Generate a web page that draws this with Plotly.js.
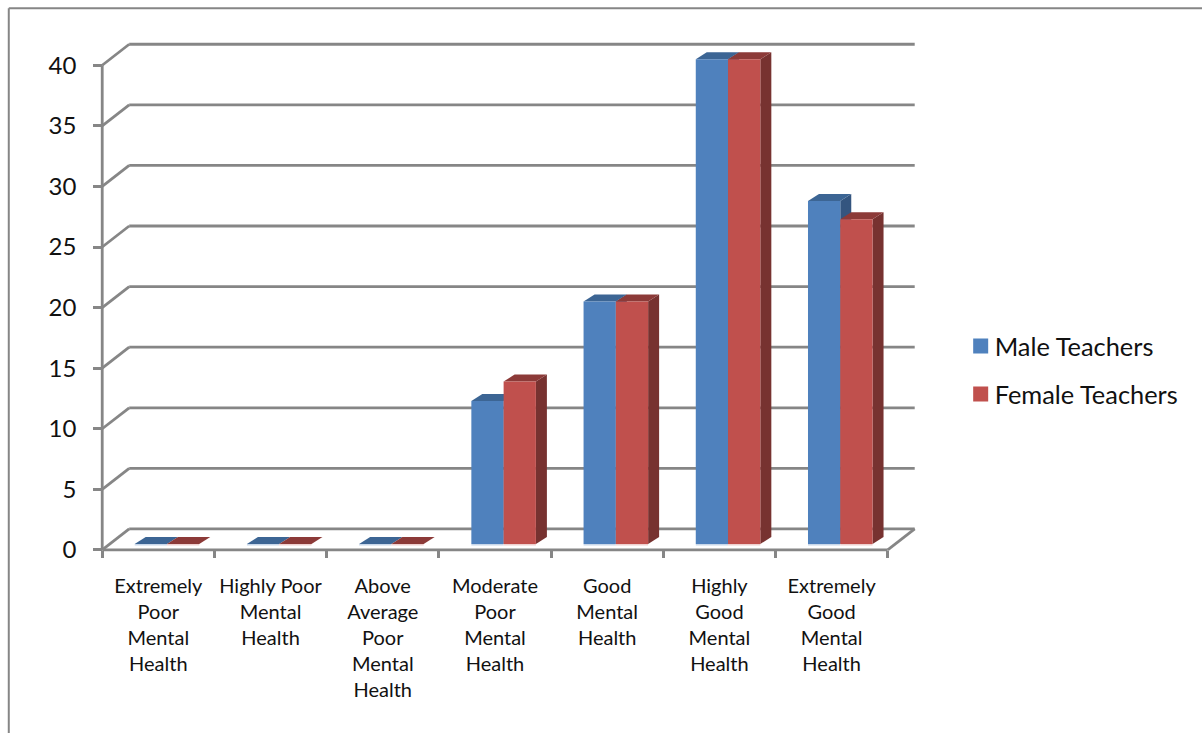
<!DOCTYPE html>
<html><head><meta charset="utf-8">
<script src="https://cdn.plot.ly/plotly-3.0.1.min.js"></script>
<style>html,body{margin:0;padding:0;background:#fff;overflow:hidden}#chart{width:1202px;height:733px}</style>
</head><body><div id="chart"></div>
<script>
const categories = [
  "Extremely<br>Poor<br>Mental<br>Health",
  "Highly Poor<br>Mental<br>Health",
  "Above<br>Average<br>Poor<br>Mental<br>Health",
  "Moderate<br>Poor<br>Mental<br>Health",
  "Good<br>Mental<br>Health",
  "Highly<br>Good<br>Mental<br>Health",
  "Extremely<br>Good<br>Mental<br>Health"
];
const maleTeachers = [0, 0, 0, 11.8, 20, 40, 28.3];
const femaleTeachers = [0, 0, 0, 13.4, 20, 40, 26.8];
const yTicks = [0, 5, 10, 15, 20, 25, 30, 35, 40];

// geometry of the 3-D look, in pixels of the reference
const pxX = 112.286, pxY = 12.125;
const axisLeftPx = 102, zeroPx = 550;
const xRange = [-0.6, 6.85], yRange = [-0.5, 42];
const plotW = (xRange[1] - xRange[0]) * pxX, plotH = (yRange[1] - yRange[0]) * pxY;
const mL = axisLeftPx - (-0.5 - xRange[0]) * pxX, mT = zeroPx - yRange[1] * pxY;

const wallDX = 27 / pxX, wallDY = 21 / pxY;
const barDX = 11 / pxX, barDY = 7 / pxY;
const barW = 32.3 / pxX, barStart = 32.5 / pxX - 0.5, barBase = 6 / pxY;
const gridColor = "#868686", gridW = 2.8;
const xEdge = -0.5, xEnd = categories.length - 0.5;

function line(x0, y0, x1, y1) {
  return {type: "line", layer: "below", xref: "x", yref: "y", x0, y0, x1, y1, line: {color: gridColor, width: gridW}};
}
function poly(pts, color) {
  const path = pts.map((p, i) => (i ? "L" : "M") + p[0] + "," + p[1]).join(" ") + " Z";
  return {type: "path", layer: "below", xref: "x", yref: "y", path, fillcolor: color, line: {width: 0}};
}
const shapes = [];
// walls
shapes.push(line(xEdge, 0, xEdge, yTicks[yTicks.length - 1]));
yTicks.forEach(t => {
  shapes.push(line(xEdge, t, xEdge + wallDX, t + wallDY));
  shapes.push(line(xEdge + wallDX, t + wallDY, xEnd + wallDX, t + wallDY));
});
shapes.push(line(xEnd, 0, xEnd + wallDX, wallDY));
shapes.push(line(xEdge, 0, xEnd, 0));

// depth faces of the columns (front faces are the bar traces, drawn above these)
function faces(values, slot, topColor, sideColor, stripColor) {
  values.forEach((v, i) => {
    const x0 = i + barStart + slot * barW, x1 = x0 + barW, yb = barBase, yt = barBase + v;
    if (v > 0) shapes.push(poly([[x1, yb], [x1 + barDX, yb + barDY], [x1 + barDX, yt + barDY], [x1, yt]], sideColor));
    shapes.push(poly([[x0, yt], [x1, yt], [x1 + barDX, yt + barDY], [x0 + barDX, yt + barDY]], topColor));
    shapes.push(poly([[x0, yb], [x1, yb], [x1, yb - 1.5 / pxY], [x0, yb - 1.5 / pxY]], stripColor));
  });
}
faces(maleTeachers, 0, "#3C6594", "#34557F", "#C8D7EA");
faces(femaleTeachers, 1, "#8C3A38", "#773230", "#EFD0CF");

// outer frame
const fx = px => (px - mL) / plotW, fy = px => 1 - (px - mT) / plotH;
const frame = {color: gridColor, width: 2};
shapes.push({type: "line", xref: "paper", yref: "paper", layer: "below", x0: fx(8.5), x1: fx(8.5), y0: fy(8), y1: fy(740), line: frame});
shapes.push({type: "line", xref: "paper", yref: "paper", layer: "below", x0: fx(8.5), x1: fx(1210), y0: fy(8), y1: fy(8), line: frame});

const fontFam = "Lato, 'Open Sans', sans-serif";
function series(name, values, slot, color) {
  return {type: "bar", name, x: categories, y: values, base: barBase, width: barW,
    offset: barStart + slot * barW, marker: {color, line: {width: 0}}, legendgroup: name};
}
const data = [
  series("Male Teachers", maleTeachers, 0, "#4F81BD"),
  series("Female Teachers", femaleTeachers, 1, "#C0504D")
];
const layout = {
  width: 1202, height: 733, autosize: false,
  margin: {l: mL, t: mT, r: 1202 - mL - plotW, b: 733 - mT - plotH, pad: 0},
  paper_bgcolor: "#fff", plot_bgcolor: "rgba(0,0,0,0)",
  barmode: "overlay", shapes,
  font: {family: fontFam, color: "#111"},
  xaxis: {type: "category", categoryorder: "array", categoryarray: categories, range: xRange,
    tickson: "boundaries", ticks: "outside", ticklen: 7, tickwidth: 2.8, tickcolor: gridColor,
    showgrid: false, zeroline: false, showline: false, tickangle: 0, automargin: false,
    tickfont: {size: 20, family: fontFam, color: "#111"}, ticklabelstandoff: 22,
    anchor: "free", position: (0 - yRange[0]) / (yRange[1] - yRange[0])},
  yaxis: {range: yRange, tickmode: "array", tickvals: yTicks, ticks: "outside", ticklen: 9, tickwidth: 2.8, tickcolor: gridColor,
    showgrid: false, zeroline: false, showline: false, automargin: false,
    tickfont: {size: 24, family: fontFam, color: "#111"}, ticklabelstandoff: 12,
    anchor: "free", position: (-0.5 - xRange[0]) / (xRange[1] - xRange[0])},
  legend: {x: fx(955), xanchor: "left", y: fy(323), yanchor: "top", bgcolor: "rgba(0,0,0,0)",
    font: {size: 25.4, family: fontFam, color: "#111"}, traceorder: "grouped", tracegroupgap: 12},
  showlegend: true
};
Plotly.newPlot("chart", data, layout, {displayModeBar: false, responsive: false}).then(() => {
  // legend swatches: same bar-trace swatch, sized and placed as in the reference
  document.querySelectorAll("#chart .legendpoints path").forEach(p => {
    const t = p.getAttribute("transform") || "";
    p.setAttribute("transform", "translate(6,0) " + t + " scale(1.25)");
  });
});
</script></body></html>
